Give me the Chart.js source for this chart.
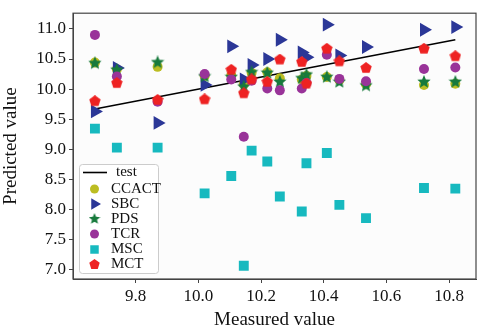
<!DOCTYPE html>
<html>
<head>
<meta charset="utf-8">
<script src="https://cdn.jsdelivr.net/npm/chart.js@4.4.1/dist/chart.umd.min.js"></script>
<style>
  html, body { margin: 0; padding: 0; background: #fff; }
  #wrap { width: 484px; height: 331px; position: relative; }
</style>
</head>
<body>
<div id="wrap"><canvas id="scatterChart" width="484" height="331"></canvas></div>
<script>
// measured value of each sample (shared x)
const measured = [9.67, 9.74, 9.87, 10.02, 10.105, 10.145, 10.17, 10.22, 10.26, 10.33, 10.345, 10.41, 10.45, 10.535, 10.72, 10.82];

// predicted values per model
const ccact = [10.44, 10.33, 10.37, 10.22, 10.23, 10.08, 10.27, 10.28, 10.18, 10.16, 10.22, 10.20, 10.15, 10.08, 10.07, 10.09];
const sbc   = [9.63, 10.35, 9.44, 10.07, 10.71, 10.16, 10.40, 10.50, 10.82, 10.61, 10.53, 11.07, 10.56, 10.70, 10.985, 11.03];
const pds   = [10.43, 10.32, 10.445, 10.21, 10.20, 10.04, 10.28, 10.27, 10.12, 10.18, 10.24, 10.20, 10.12, 10.06, 10.12, 10.12];
const tcr   = [10.90, 10.21, 9.79, 10.25, 10.16, 9.21, 10.14, 10.01, 9.98, 10.01, 10.10, 10.57, 10.17, 10.13, 10.335, 10.36];
const msc   = [9.345, 9.03, 9.03, 8.27, 8.56, 7.07, 8.98, 8.80, 8.22, 7.97, 8.77, 8.94, 8.08, 7.86, 8.36, 8.35];
const mct   = [9.80, 10.10, 9.82, 9.83, 10.32, 9.93, 10.16, 10.12, 10.49, 10.45, 10.09, 10.67, 10.46, 10.35, 10.67, 10.545];

// reference line y = x
const testLine = [9.67, 10.82];

const xTicks = [9.8, 10.0, 10.2, 10.4, 10.6, 10.8];
const yTicks = [7.0, 7.5, 8.0, 8.5, 9.0, 9.5, 10.0, 10.5, 11.0];

const serif = '"Liberation Serif", "DejaVu Serif", serif';

// filled polygon markers (star, pentagon) drawn on small canvases
function polyMarker(color, size, points, inner) {
  const c = document.createElement('canvas');
  c.width = size; c.height = size;
  const g = c.getContext('2d');
  const r = size / 2, cx = r, cy = r;
  g.beginPath();
  const n = inner ? points * 2 : points;
  for (let i = 0; i < n; i++) {
    const rad = inner && i % 2 === 1 ? r * inner : r;
    const a = -Math.PI / 2 + i * Math.PI * 2 / n;
    const px = cx + rad * Math.cos(a), py = cy + rad * Math.sin(a);
    if (i === 0) g.moveTo(px, py); else g.lineTo(px, py);
  }
  g.closePath();
  g.fillStyle = color;
  g.fill();
  return c;
}

const colors = {
  ccact: '#bcbd22',
  sbc: '#2b3797',
  pds: '#177a3c',
  tcr: '#993399',
  msc: '#17b9bf',
  mct: '#ee2222'
};

const starImg = polyMarker(colors.pds, 14, 5, 0.45);
const pentImg = polyMarker(colors.mct, 12, 5, 0);
const starSmall = polyMarker(colors.pds, 12, 5, 0.45);
const pentSmall = polyMarker(colors.mct, 11, 5, 0);

const toPoints = (ys) => measured.map((x, i) => ({ x: x, y: ys[i] }));

const series = [
  { label: 'CCACT', data: ccact, color: colors.ccact, style: 'circle', radius: 5, legR: 4.5, rot: 0, order: 6 },
  { label: 'SBC', data: sbc, color: colors.sbc, style: 'triangle', radius: 8, legR: 6.5, rot: 90, order: 5 },
  { label: 'PDS', data: pds, color: colors.pds, style: starImg, radius: 6, legR: 5, rot: 0, order: 4 },
  { label: 'TCR', data: tcr, color: colors.tcr, style: 'circle', radius: 5, legR: 4.5, rot: 0, order: 3 },
  { label: 'MSC', data: msc, color: colors.msc, style: 'rect', radius: 7, legR: 6, rot: 0, order: 2 },
  { label: 'MCT', data: mct, color: colors.mct, style: pentImg, radius: 6, legR: 5, rot: 0, order: 1 }
];

const datasets = [{
  type: 'line',
  label: 'test',
  data: testLine.map(v => ({ x: v, y: v })),
  borderColor: '#000',
  borderWidth: 1.6,
  pointRadius: 0,
  fill: false,
  order: 7
}];
series.forEach(s => {
  datasets.push({
    type: 'scatter',
    label: s.label,
    data: toPoints(s.data),
    backgroundColor: s.color,
    borderColor: s.color,
    borderWidth: 0,
    pointStyle: s.style,
    pointRadius: s.radius,
    rotation: s.rot,
    order: s.order
  });
});

// light plot background + frame + legend
const frame = {
  id: 'frame',
  beforeDraw(chart) {
    const a = chart.chartArea, ctx = chart.ctx;
    ctx.save();
    ctx.fillStyle = '#fcfcfc';
    ctx.fillRect(a.left, a.top, a.right - a.left, a.bottom - a.top);
    ctx.restore();
  },
  afterDraw(chart) {
    const a = chart.chartArea, ctx = chart.ctx;
    ctx.save();
    ctx.strokeStyle = '#444';
    ctx.lineWidth = 1.2;
    ctx.strokeRect(a.left, a.top, a.right - a.left, a.bottom - a.top);

    // legend box in lower left of the plot
    const bx = 79, by = 164, bw = 79, bh = 109;
    ctx.fillStyle = 'rgba(255,255,255,0.9)';
    ctx.strokeStyle = '#cccccc';
    ctx.lineWidth = 1;
    ctx.beginPath();
    ctx.roundRect(bx + 0.5, by + 0.5, bw, bh, 3);
    ctx.fill();
    ctx.stroke();

    ctx.font = '15px ' + serif;
    ctx.textBaseline = 'middle';
    ctx.fillStyle = '#111';
    const rows = [172.5, 189, 204, 219, 234, 249.5, 264.5];
    const mx = 94.5;
    // line entry
    ctx.strokeStyle = '#000';
    ctx.lineWidth = 1.6;
    ctx.beginPath();
    ctx.moveTo(83, rows[0]);
    ctx.lineTo(107, rows[0]);
    ctx.stroke();
    ctx.fillText('test', 116, rows[0]);
    const legendImg = { PDS: starSmall, MCT: pentSmall };
    series.forEach((s, i) => {
      const y = rows[i + 1];
      const style = legendImg[s.label] || s.style;
      ctx.fillStyle = s.color;
      Chart.helpers.drawPoint(ctx, {
        pointStyle: style,
        radius: s.legR,
        rotation: s.rot,
        borderWidth: 0
      }, mx, y);
      ctx.fillStyle = '#111';
      ctx.fillText(s.label, 111, y);
    });
    ctx.restore();
  }
};

new Chart(document.getElementById('scatterChart'), {
  type: 'scatter',
  data: { datasets: datasets },
  options: {
    responsive: false,
    animation: false,
    layout: { padding: { left: 0, right: 6, top: 11, bottom: 0 } },
    plugins: {
      legend: { display: false },
      tooltip: { enabled: false }
    },
    scales: {
      x: {
        type: 'linear',
        min: 9.60,
        max: 10.886,
        afterBuildTicks: (scale) => { scale.ticks = xTicks.map(v => ({ value: v })); },
        afterFit: (scale) => { scale.height = 52; },
        ticks: {
          color: '#111',
          font: { family: serif, size: 17 },
          padding: 3,
          maxRotation: 0,
          callback: (v) => Number(v).toFixed(1)
        },
        grid: { drawOnChartArea: false, drawTicks: true, tickLength: 4, color: '#444' },
        border: { color: '#444' },
        title: {
          display: true,
          text: 'Measured value',
          color: '#111',
          font: { family: serif, size: 19 },
          padding: { top: 0, bottom: 0 }
        }
      },
      y: {
        type: 'linear',
        min: 6.85,
        max: 11.26,
        afterBuildTicks: (scale) => { scale.ticks = yTicks.map(v => ({ value: v })); },
        afterFit: (scale) => { scale.width = 73; },
        ticks: {
          color: '#111',
          font: { family: serif, size: 17 },
          padding: 3,
          callback: (v) => Number(v).toFixed(1)
        },
        grid: { drawOnChartArea: false, drawTicks: true, tickLength: 4, color: '#444' },
        border: { color: '#444' },
        title: {
          display: true,
          text: 'Predicted value',
          color: '#111',
          font: { family: serif, size: 19 },
          padding: { top: 0, bottom: 2 }
        }
      }
    }
  },
  plugins: [frame]
});
</script>
</body>
</html>
